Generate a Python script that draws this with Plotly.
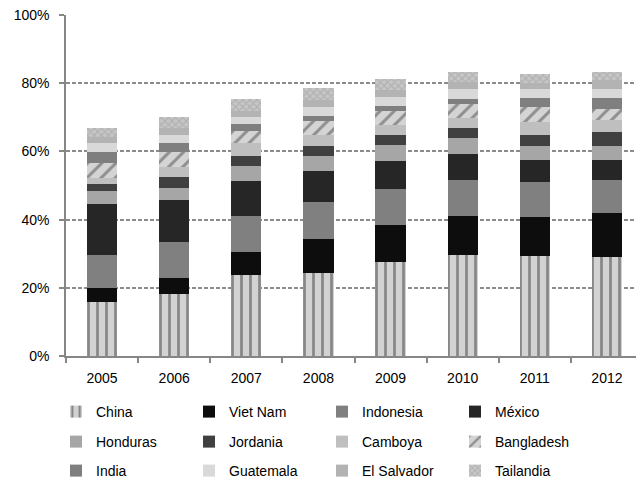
import plotly.graph_objects as go

years = ["2005", "2006", "2007", "2008", "2009", "2010", "2011", "2012"]

countries = ["China", "Viet Nam", "Indonesia", "México", "Honduras", "Jordania",
             "Camboya", "Bangladesh", "India", "Guatemala", "El Salvador", "Tailandia"]

# Share of each supplier (%), by year
china = [15.9, 18.2, 23.8, 24.4, 27.7, 29.6, 29.3, 29.0]
viet_nam = [4.0, 4.7, 6.7, 9.9, 10.7, 11.5, 11.5, 12.9]
indonesia = [9.7, 10.5, 10.6, 10.9, 10.6, 10.5, 10.2, 9.7]
mexico = [15.0, 12.3, 10.2, 9.1, 8.2, 7.6, 6.5, 5.9]
honduras = [3.8, 3.6, 4.4, 4.4, 4.7, 4.7, 4.1, 4.1]
jordania = [2.0, 3.2, 3.0, 2.9, 2.9, 3.0, 3.2, 4.1]
camboya = [1.8, 3.0, 3.9, 3.3, 2.9, 2.9, 3.8, 3.4]
bangladesh = [4.3, 4.4, 3.5, 4.1, 4.1, 4.2, 4.5, 3.4]
india = [3.2, 2.6, 1.9, 1.4, 1.5, 1.4, 2.6, 3.2]
guatemala = [2.9, 2.4, 2.1, 2.7, 2.7, 2.9, 2.6, 2.6]
el_salvador = [1.7, 2.0, 1.7, 2.1, 2.0, 2.1, 1.8, 2.6]
tailandia = [2.6, 3.2, 3.6, 3.4, 3.2, 2.9, 2.6, 2.4]

series = [china, viet_nam, indonesia, mexico, honduras, jordania,
          camboya, bangladesh, india, guatemala, el_salvador, tailandia]

styles = [
    dict(color="#c4c4c4", pattern=dict(shape="|", fgcolor="#3a3a3a", bgcolor="#d2d2d2", size=9, solidity=0.3)),
    dict(color="#0d0d0d"),
    dict(color="#808080"),
    dict(color="#262626"),
    dict(color="#a6a6a6"),
    dict(color="#404040"),
    dict(color="#bfbfbf"),
    dict(color="#d0d0d0", pattern=dict(shape="/", fgcolor="#4a4a4a", bgcolor="#d4d4d4", size=10, solidity=0.3)),
    dict(color="#7f7f7f"),
    dict(color="#d9d9d9"),
    dict(color="#b3b3b3"),
    dict(color="#b5b5b5", pattern=dict(shape="x", fgcolor="#999999", bgcolor="#c6c6c6", size=5, solidity=0.4)),
]

legend_ids = ["legend", "legend2", "legend3"]

fig = go.Figure()
for i, (name, vals, st) in enumerate(zip(countries, series, styles)):
    fig.add_trace(go.Bar(
        x=years, y=vals, name=name,
        marker=dict(line=dict(width=0), **st),
        width=0.42,
        legend=legend_ids[i // 4],
    ))

FONT = "Liberation Sans, Arial, sans-serif"

leg_common = dict(
    orientation="h", xref="container", yref="container",
    xanchor="left", yanchor="middle",
    entrywidth=88, entrywidthmode="pixels",
    font=dict(family=FONT, size=14, color="#000000"),
    bgcolor="rgba(0,0,0,0)", traceorder="normal",
)

fig.update_layout(
    barmode="stack",
    bargap=0,
    width=636, height=479,
    margin=dict(l=66, r=0, t=15, b=123),
    paper_bgcolor="white", plot_bgcolor="white",
    font=dict(family=FONT, size=14, color="#000000"),
    legend=dict(x=56 / 636, y=1 - 412 / 479, **leg_common),
    legend2=dict(x=56 / 636, y=1 - 442 / 479, **leg_common),
    legend3=dict(x=56 / 636, y=1 - 471 / 479, **leg_common),
    xaxis=dict(
        type="category", range=[-0.5, 7.403],
        showline=True, linecolor="#868686", linewidth=1.5,
        ticks="outside", ticklen=5, tickcolor="#868686", tickwidth=1.5,
        tickson="boundaries", showgrid=False,
        ticklabelstandoff=8,
    ),
    yaxis=dict(
        range=[0, 100], tickvals=[0, 20, 40, 60, 80, 100],
        ticktext=["0%", "20%", "40%", "60%", "80%", "100%"],
        showline=True, linecolor="#868686", linewidth=1.5,
        ticks="outside", ticklen=5, tickcolor="#868686", tickwidth=1.5,
        showgrid=True, gridcolor="#8c8c8c", gridwidth=1.5, griddash="4px,2px",
        zeroline=False, ticklabelstandoff=7,
    ),
)

fig.write_html("out.html")
